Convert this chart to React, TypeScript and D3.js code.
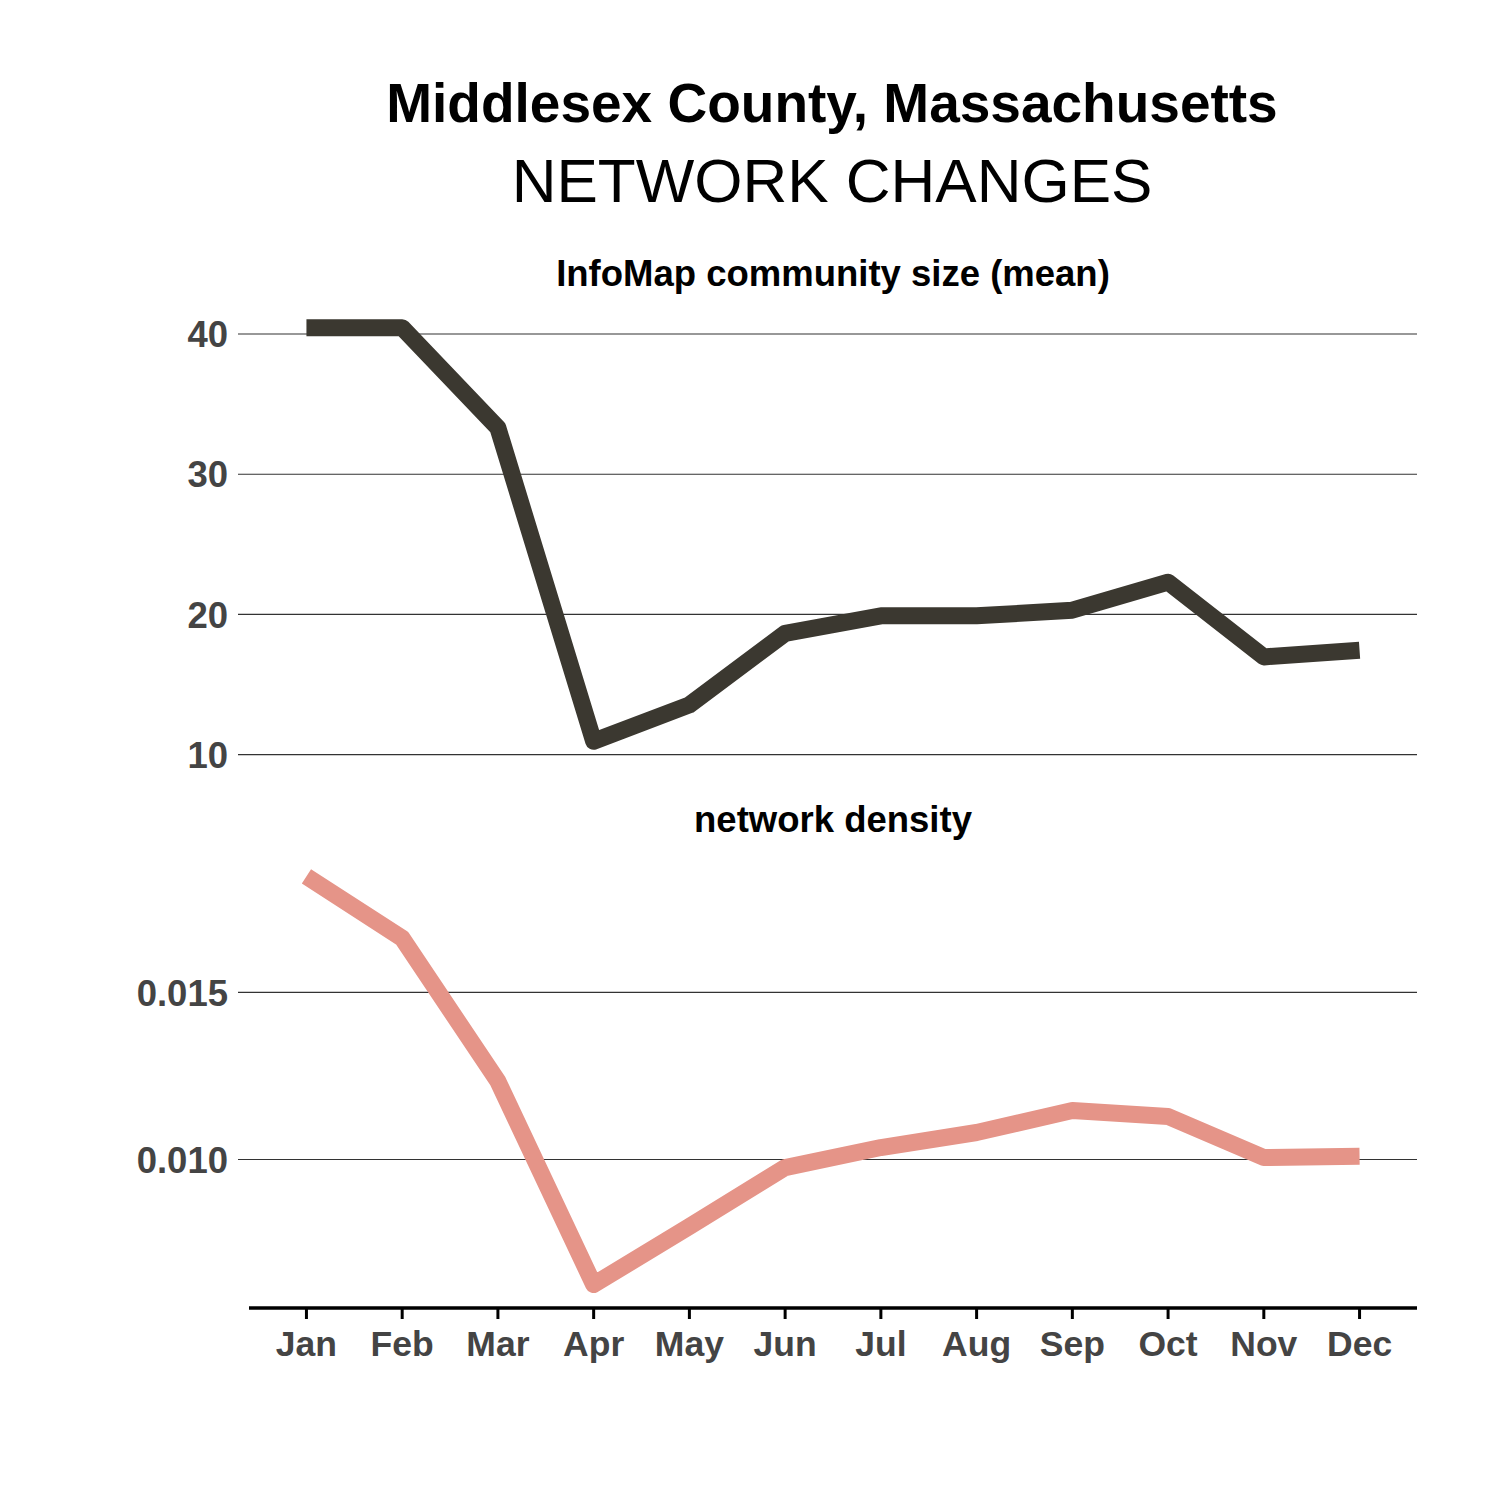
import React from "react";
import * as d3 from "d3";

const months = ["Jan", "Feb", "Mar", "Apr", "May", "Jun", "Jul", "Aug", "Sep", "Oct", "Nov", "Dec"];
const communitySize = [40.45, 40.45, 33.3, 10.95, 13.55, 18.65, 19.9, 19.9, 20.3, 22.3, 16.97, 17.45];
const density = [0.01847, 0.01662, 0.01234, 0.00626, 0.008, 0.00976, 0.01036, 0.01081, 0.01147, 0.01129, 0.01006, 0.0101];
const sizeTicks = [10, 20, 30, 40];
const densityTicks = [0.01, 0.015];

const FONT = "'Liberation Sans', Arial, sans-serif";
const LEFT = 249;
const RIGHT = 1417;

// ggplot-style 5% expansion around the data range
function expanded(values: number[]): [number, number] {
  const [lo, hi] = d3.extent(values) as [number, number];
  const pad = (hi - lo) * 0.05;
  return [lo - pad, hi + pad];
}

const x = d3.scalePoint<string>().domain(months).range([LEFT, RIGHT]).padding(0.6);

type PanelProps = {
  title: string;
  titleY: number;
  values: number[];
  ticks: number[];
  fmt: (v: number) => string;
  top: number;
  bottom: number;
  color: string;
};

function Panel({ title, titleY, values, ticks, fmt, top, bottom, color }: PanelProps) {
  const y = d3.scaleLinear().domain(expanded(values)).range([bottom, top]);
  const line = d3
    .line<number>()
    .x((_, i) => x(months[i]) as number)
    .y((d) => y(d));

  return (
    <g>
      <text
        x={(LEFT + RIGHT) / 2}
        y={titleY}
        textAnchor="middle"
        fontFamily={FONT}
        fontWeight="bold"
        fontSize={36.5}
        fill="#000"
      >
        {title}
      </text>
      {ticks.map((t) => (
        <g key={t}>
          <line x1={238} x2={RIGHT} y1={y(t)} y2={y(t)} stroke="#333" strokeWidth={1.1} />
          <text
            x={228}
            y={y(t)}
            dy="0.36em"
            textAnchor="end"
            fontFamily={FONT}
            fontWeight="bold"
            fontSize={36.5}
            fill="#444"
          >
            {fmt(t)}
          </text>
        </g>
      ))}
      <path
        d={line(values) || ""}
        fill="none"
        stroke={color}
        strokeWidth={17}
        strokeLinejoin="round"
        strokeLinecap="butt"
      />
    </g>
  );
}

export default function App() {
  const axisY = 1308;
  return (
    <svg
      width={1500}
      height={1500}
      style={{ position: "absolute", left: 0, top: 0, background: "#fff" }}
    >
      <rect width={1500} height={1500} fill="#fff" />
      <text x={832} y={122} textAnchor="middle" fontFamily={FONT} fontWeight="bold" fontSize={55}>
        Middlesex County, Massachusetts
      </text>
      <text x={832} y={202} textAnchor="middle" fontFamily={FONT} fontSize={62}>
        NETWORK CHANGES
      </text>

      <Panel
        title="InfoMap community size (mean)"
        titleY={286}
        values={communitySize}
        ticks={sizeTicks}
        fmt={d3.format("d")}
        top={307}
        bottom={762}
        color="#3b3830"
      />
      <Panel
        title="network density"
        titleY={832}
        values={density}
        ticks={densityTicks}
        fmt={d3.format(".3f")}
        top={856}
        bottom={1305}
        color="#e59488"
      />

      <line x1={LEFT} x2={RIGHT} y1={axisY} y2={axisY} stroke="#000" strokeWidth={3.5} />
      {months.map((m) => (
        <g key={m} transform={`translate(${x(m)},0)`}>
          <line y1={axisY} y2={axisY + 11} stroke="#000" strokeWidth={3} />
          <text
            y={1356}
            textAnchor="middle"
            fontFamily={FONT}
            fontWeight="bold"
            fontSize={35.5}
            fill="#444"
          >
            {m}
          </text>
        </g>
      ))}
    </svg>
  );
}
